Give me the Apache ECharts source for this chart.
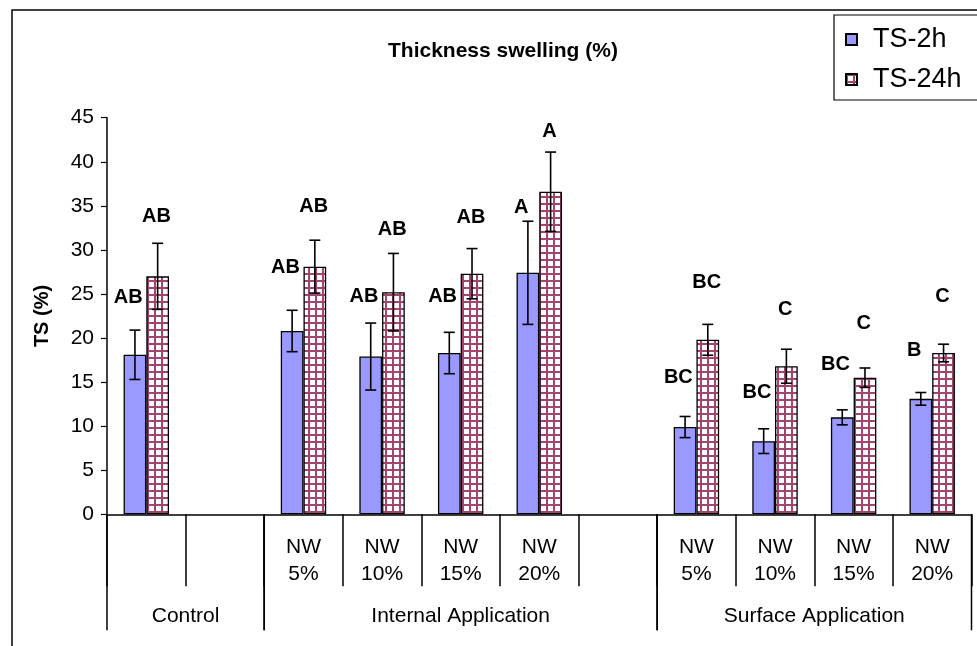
<!DOCTYPE html>
<html>
<head>
<meta charset="utf-8">
<script src="https://cdn.jsdelivr.net/npm/echarts@6/dist/echarts.min.js"></script>
<style>
html,body{margin:0;padding:0;background:#fff;}
#chart{width:977px;height:646px;}
</style>
</head>
<body>
<div id="chart"></div>
<script>
// ---- data ----
var categories = ['', '', 'NW\n5%', 'NW\n10%', 'NW\n15%', 'NW\n20%', '', 'NW\n5%', 'NW\n10%', 'NW\n15%', 'NW\n20%'];
var groups = ['Control', 'Internal Application', 'Surface Application'];
var groupStart = [0, 2, 7];
var groupEnd = [1, 6, 10];
var seriesNames = ['TS-2h', 'TS-24h'];
var ts2h = [18.1, null, 20.8, 17.9, 18.3, 27.4, null, 9.9, 8.3, 11.0, 13.1];
var ts2hErr = [2.8, null, 2.35, 3.8, 2.35, 5.85, null, 1.2, 1.4, 0.85, 0.72];
var ts24h = [27.0, null, 28.1, 25.2, 27.3, 36.6, null, 19.8, 16.8, 15.5, 18.3];
var ts24hErr = [3.75, null, 3.0, 4.4, 2.85, 4.5, null, 1.75, 1.93, 1.1, 1.0];
var ts2hLetters = ['AB', null, 'AB', 'AB', 'AB', 'A', null, 'BC', 'BC', 'BC', 'B'];
var ts2hLetterY = [24.6, null, 28.0, 24.7, 24.7, 34.8, null, 15.5, 13.8, 17.0, 18.6];
var ts24hLetters = ['AB', null, 'AB', 'AB', 'AB', 'A', null, 'BC', 'C', 'C', 'C'];
var ts24hLetterY = [33.8, null, 34.9, 32.3, 33.7, 43.4, null, 26.3, 23.2, 21.6, 24.7];
var yTicks = {min: 0, max: 45, interval: 5};

// ---- styles ----
var FONT = 'Liberation Sans, Arial, sans-serif';
var blue = '#9999FF';
var maroon = '#a3446f';
function makePattern() {
  var c = document.createElement('canvas');
  c.width = 7; c.height = 7;
  var g = c.getContext('2d');
  g.fillStyle = '#ffffff'; g.fillRect(0, 0, 7, 7);
  g.fillStyle = maroon;
  g.fillRect(0, 0, 7, 2);
  g.fillRect(0, 0, 2, 7);
  return c;
}
var pattern = {image: makePattern(), repeat: 'repeat'};
var BAR_FRAC = 0.289; // bar width as fraction of band

function errData(vals, errs) {
  var out = [];
  for (var i = 0; i < vals.length; i++) {
    if (vals[i] == null) continue;
    out.push([i, vals[i] - errs[i], vals[i] + errs[i]]);
  }
  return out;
}
function letterData(ys) {
  var out = [];
  for (var i = 0; i < ys.length; i++) {
    if (ys[i] == null) continue;
    out.push([i, ys[i]]);
  }
  return out;
}
function errRender(sign) {
  return function (params, api) {
    var band = api.size([1, 0])[0];
    var lo = api.coord([api.value(0), api.value(1)]);
    var hi = api.coord([api.value(0), api.value(2)]);
    var x = lo[0] + sign * band * BAR_FRAC / 2;
    var cap = 5.5;
    var st = {stroke: '#000', lineWidth: 1.6};
    return {type: 'group', children: [
      {type: 'line', shape: {x1: x, y1: lo[1], x2: x, y2: hi[1]}, style: st},
      {type: 'line', shape: {x1: x - cap, y1: lo[1], x2: x + cap, y2: lo[1]}, style: st},
      {type: 'line', shape: {x1: x - cap, y1: hi[1], x2: x + cap, y2: hi[1]}, style: st}
    ]};
  };
}
function letterRender(texts, frac) {
  return function (params, api) {
    var band = api.size([1, 0])[0];
    var idx = api.value(0);
    var p = api.coord([idx, api.value(1)]);
    return {type: 'text', x: p[0] + frac * band, y: p[1],
      style: {text: texts[idx], fill: '#000', font: 'bold 20px ' + FONT, textAlign: 'center', textVerticalAlign: 'middle'}};
  };
}
var groupData = groups.map(function (g, i) { return [groupStart[i], groupEnd[i]]; });
function groupRender(params, api) {
  var band = api.size([1, 0])[0];
  var a = api.coord([api.value(0), 0]);
  var b = api.coord([api.value(1), 0]);
  var xL = a[0] - band / 2, xR = b[0] + band / 2, y0 = a[1];
  var st = {stroke: '#000', lineWidth: 1.5};
  return {type: 'group', children: [
    {type: 'line', shape: {x1: xL, y1: y0, x2: xL, y2: y0 + 116}, style: st},
    {type: 'line', shape: {x1: xR, y1: y0, x2: xR, y2: y0 + 116}, style: st},
    {type: 'text', x: (xL + xR) / 2, y: y0 + 102,
      style: {text: groups[params.dataIndex], fill: '#000', font: '21px ' + FONT, textAlign: 'center', textVerticalAlign: 'middle'}}
  ]};
}

var chart = echarts.init(document.getElementById('chart'), null, {renderer: 'canvas'});
chart.setOption({
  backgroundColor: '#ffffff',
  animation: false,
  title: {
    text: 'Thickness swelling (%)', left: 383, top: 36,
    textStyle: {fontFamily: FONT, fontSize: 21, fontWeight: 'bold', color: '#000'}
  },
  legend: {
    orient: 'vertical', left: 834, top: 15, padding: [11, 60, 7, 11],
    itemGap: 13, itemWidth: 11, itemHeight: 11, icon: 'rect',
    backgroundColor: '#fff', borderColor: '#000', borderWidth: 1.2,
    textStyle: {fontFamily: FONT, fontSize: 27, color: '#000', padding: [0, 0, 0, 11]},
    data: seriesNames
  },
  graphic: [{type: 'rect', shape: {x: 12, y: 10, width: 1100, height: 800}, style: {fill: 'none', stroke: '#000', lineWidth: 1.5}, z: -1}],
  grid: {left: 107, right: 5.5, top: 117.7, bottom: 131.7, containLabel: false},
  xAxis: {
    type: 'category', data: categories,
    axisLine: {lineStyle: {color: '#000', width: 1.5}},
    axisTick: {show: true, interval: 0, length: 72, lineStyle: {color: '#000', width: 1.5}},
    axisLabel: {interval: 0, color: '#000', fontFamily: FONT, fontSize: 21, lineHeight: 27, margin: 19}
  },
  yAxis: {
    type: 'value', min: yTicks.min, max: yTicks.max, interval: yTicks.interval,
    name: 'TS (%)', nameLocation: 'middle', nameGap: 55, nameRotate: 90,
    nameTextStyle: {fontFamily: FONT, fontSize: 20, fontWeight: 'bold', color: '#000'},
    axisLine: {show: true, lineStyle: {color: '#000', width: 1.5}},
    axisTick: {show: true, length: 6, lineStyle: {color: '#000', width: 1.2}},
    axisLabel: {color: '#000', fontFamily: FONT, fontSize: 21, margin: 13},
    splitLine: {show: false}
  },
  series: [
    {name: seriesNames[0], type: 'bar', data: ts2h, barWidth: (BAR_FRAC * 100) + '%', barGap: '0%',
      itemStyle: {color: blue, borderColor: '#000', borderWidth: 1.3}},
    {name: seriesNames[1], type: 'bar', data: ts24h, barWidth: (BAR_FRAC * 100) + '%', barGap: '0%',
      itemStyle: {color: pattern, borderColor: '#000', borderWidth: 1.3}},
    {type: 'custom', z: 5, renderItem: errRender(-1), data: errData(ts2h, ts2hErr), encode: {x: 0, y: [1, 2]}, silent: true},
    {type: 'custom', z: 5, renderItem: errRender(1), data: errData(ts24h, ts24hErr), encode: {x: 0, y: [1, 2]}, silent: true},
    {type: 'custom', z: 6, renderItem: letterRender(ts2hLetters, -0.23), data: letterData(ts2hLetterY), silent: true},
    {type: 'custom', z: 6, renderItem: letterRender(ts24hLetters, 0.13), data: letterData(ts24hLetterY), silent: true},
    {type: 'custom', z: 6, clip: false, renderItem: groupRender, data: groupData, encode: {x: [0, 1]}, silent: true}
  ]
});
</script>
</body>
</html>
